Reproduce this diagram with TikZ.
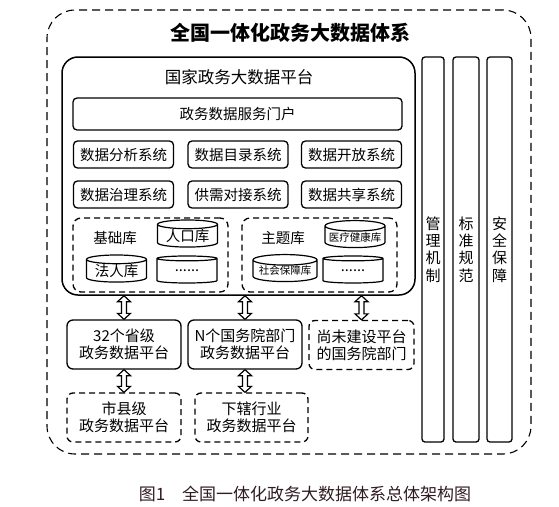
\documentclass[tikz,border=0pt]{standalone}
\usepackage{fontspec}
\setmainfont{Noto Sans CJK SC}
\usetikzlibrary{shapes.geometric, calc}
\definecolor{capcol}{RGB}{48,28,32}

% hollow two-way arrow between two points on one vertical line
\newcommand{\dualarrow}[2]{%
  \draw[dualarr] let \p1=(#1), \p2=(#2) in
    (\x1,\y1) -- (\x1-6.5pt,\y1-6pt) -- (\x1-2.5pt,\y1-6pt) -- (\x1-2.5pt,\y2+6pt)
    -- (\x1-6.5pt,\y2+6pt) -- (\x1,\y2) -- (\x1+6.5pt,\y2+6pt) -- (\x1+2.5pt,\y2+6pt)
    -- (\x1+2.5pt,\y1-6pt) -- (\x1+6.5pt,\y1-6pt) -- cycle;}

\begin{document}
\begin{tikzpicture}[x=1pt, y=-1pt,
    frame/.style={draw, line width=1.1pt, dash pattern=on 8pt off 5pt,
      rounded corners=28pt, minimum width=484pt, minimum height=444pt},
    platform/.style={draw, line width=1.5pt, rounded corners=16pt,
      minimum width=353pt, minimum height=238pt},
    sysbox/.style={draw, line width=1.3pt, rounded corners=4pt, inner sep=0pt,
      minimum width=100pt, minimum height=27pt, font=\fontsize{14.5}{17}\selectfont},
    group/.style={draw, line width=1.3pt, dash pattern=on 6pt off 4pt,
      rounded corners=8pt, minimum width=155pt, minimum height=74pt},
    tag/.style={font=\fontsize{14.5}{17}\selectfont},
    db/.style={cylinder, shape border rotate=90, aspect=0.2, draw, line width=1.2pt,
      fill=white, inner sep=0pt, minimum width=60pt, minimum height=27pt,
      font=\fontsize{14.5}{17}\selectfont},
    small/.style={font=\fontsize{10.5}{12}\selectfont},
    platbox/.style={draw, line width=1.3pt, rounded corners=6pt, inner sep=0pt,
      minimum width=114pt, minimum height=49pt, align=center,
      font=\fontsize{15}{17}\selectfont},
    dplatbox/.style={platbox, dash pattern=on 6pt off 4pt},
    pillar/.style={draw, line width=1.3pt, rounded corners=3pt, inner sep=0pt,
      minimum height=385pt, align=center, font=\fontsize{15}{17.3}\selectfont},
    dualarr/.style={draw, line width=1.2pt, fill=white, line join=miter},
  ]
  \useasboundingbox (0,0) rectangle (559,506);

  \node[frame] (outer) at (289,232) {};
  \node[font=\fontsize{20}{24}\selectfont\bfseries] (title) at (290,33) {全国一体化政务大数据体系};

  % national platform
  \node[platform] (plat) at (238.5,176) {};
  \node[font=\fontsize{16.5}{20}\selectfont] (platname) at (239,77) {国家政务大数据平台};
  \node[sysbox, minimum width=329pt, minimum height=32pt] (portal) at (237.5,114) {政务数据服务门户};
  \node[sysbox] (analysis) at (123.5,154.5) {数据分析系统};
  \node[sysbox] (catalog)  at (238,154.5)   {数据目录系统};
  \node[sysbox] (opening)  at (351.5,154.5) {数据开放系统};
  \node[sysbox] (govern)   at (123.5,194.5) {数据治理系统};
  \node[sysbox] (supply)   at (238,194.5)   {供需对接系统};
  \node[sysbox] (share)    at (351.5,194.5) {数据共享系统};

  % libraries
  \node[group] (basegrp)  at (150.5,255) {};
  \node[group] (themegrp) at (319.5,255) {};
  \node[tag] (basename)  at (115,238) {基础库};
  \node[db] (people)   at (187.5,236) {人口库};
  \node[db] (legal)    at (116.5,271) {法人库};
  \node[db] (basemore) at (187,271)   {......};
  \node[tag] (themename) at (283,238) {主题库};
  \node[db, small] (health) at (355,237) {医疗健康库};
  \node[db, small, minimum width=64pt] (social) at (285,271) {社会保障库};
  \node[db] (thememore) at (353,271) {......};

  % lower platforms
  \node[platbox]  (prov)   at (124,344.5)   {32个省级\\政务数据平台};
  \node[platbox]  (dept)   at (245,344.5)   {N个国务院部门\\政务数据平台};
  \node[dplatbox, minimum width=105pt] (nodept) at (361.5,345) {尚未建设平台\\的国务院部门};
  \node[dplatbox] (city)   at (124,417.5)   {市县级\\政务数据平台};
  \node[dplatbox, minimum width=113pt] (sector) at (251.5,417.5) {下辖行业\\政务数据平台};

  % side pillars
  \node[pillar, minimum width=22pt] (mgmt) at (433,249.5)   {管\\理\\机\\制};
  \node[pillar, minimum width=26pt] (std)  at (466,249.5)   {标\\准\\规\\范};
  \node[pillar, minimum width=25pt] (safe) at (499.5,249.5) {安\\全\\保\\障};

  \dualarrow{plat.south -| prov.north}{prov.north}
  \dualarrow{plat.south -| dept.north}{dept.north}
  \dualarrow{plat.south -| nodept.north}{nodept.north}
  \dualarrow{prov.south}{city.north}
  \dualarrow{dept.south}{sector.north -| dept.south}

  \node[font=\fontsize{17}{20}\selectfont, text=capcol] (caption) at (305,494)
    {图1\hspace{1em}全国一体化政务大数据体系总体架构图};
\end{tikzpicture}
\end{document}
